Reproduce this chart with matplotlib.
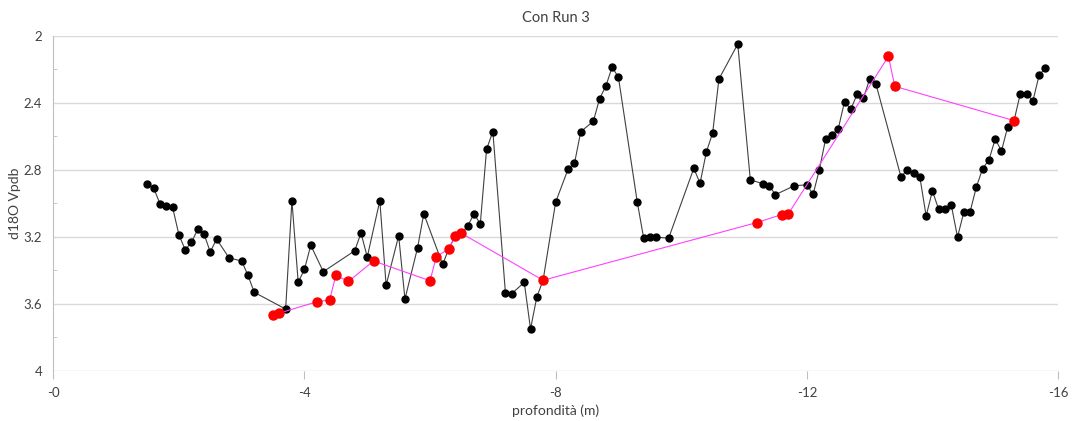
import matplotlib
matplotlib.use("Agg")
import matplotlib.pyplot as plt
from matplotlib.ticker import MultipleLocator

plt.rcParams['font.family'] = ['Lato', 'DejaVu Sans']

# full run, depth (m) and d18O
depth = [-1.5, -1.6, -1.7, -1.8, -1.9, -2.0, -2.1, -2.2, -2.3, -2.4, -2.5, -2.6,
         -2.8, -3.0, -3.1, -3.2, -3.7, -3.8, -3.9, -4.0, -4.1, -4.3, -4.8, -4.9,
         -5.0, -5.2, -5.3, -5.5, -5.6, -5.8, -5.9, -6.2, -6.3, -6.4, -6.5, -6.6,
         -6.7, -6.8, -6.9, -7.0, -7.2, -7.3, -7.5, -7.6, -7.7, -7.8, -8.0, -8.2,
         -8.3, -8.4, -8.6, -8.7, -8.8, -8.9, -9.0, -9.3, -9.4, -9.5, -9.6, -9.8,
         -10.2, -10.3, -10.4, -10.5, -10.6, -10.9, -11.1, -11.3, -11.4, -11.5,
         -11.8, -12.0, -12.1, -12.2, -12.3, -12.4, -12.5, -12.6, -12.7, -12.8,
         -12.9, -13.0, -13.1, -13.5, -13.6, -13.7, -13.8, -13.9, -14.0, -14.1,
         -14.2, -14.3, -14.4, -14.5, -14.6, -14.7, -14.8, -14.9, -15.0, -15.1,
         -15.2, -15.3, -15.4, -15.5, -15.6, -15.7, -15.8]
d18o = [2.887, 2.911, 3.005, 3.017, 3.025, 3.188, 3.278, 3.234, 3.156, 3.184,
        3.291, 3.214, 3.327, 3.345, 3.431, 3.532, 3.632, 2.985, 3.472, 3.395,
        3.251, 3.409, 3.284, 3.178, 3.321, 2.985, 3.490, 3.194, 3.572, 3.268,
        3.063, 3.365, 3.272, 3.194, 3.180, 3.136, 3.063, 3.124, 2.678, 2.572,
        3.534, 3.540, 3.473, 3.751, 3.560, 3.460, 2.994, 2.794, 2.762, 2.573,
        2.511, 2.376, 2.300, 2.187, 2.249, 2.994, 3.205, 3.204, 3.204, 3.208,
        2.792, 2.881, 2.694, 2.581, 2.259, 2.050, 2.860, 2.884, 2.896, 2.949,
        2.896, 2.890, 2.947, 2.799, 2.615, 2.591, 2.557, 2.394, 2.440, 2.350,
        2.374, 2.260, 2.288, 2.844, 2.799, 2.820, 2.844, 3.076, 2.927, 3.037,
        3.037, 3.011, 3.202, 3.054, 3.051, 2.903, 2.794, 2.742, 2.617, 2.688,
        2.543, 2.507, 2.346, 2.346, 2.390, 2.235, 2.193]

# selected samples
sel_depth = [-3.5, -3.6, -4.2, -4.4, -4.5, -4.7, -5.1, -6.0, -6.1, -6.3, -6.4,
             -6.5, -7.8, -11.2, -11.6, -11.7, -13.3, -13.4, -15.3]
sel_d18o = [3.666, 3.656, 3.588, 3.578, 3.431, 3.467, 3.345, 3.463, 3.319,
            3.272, 3.194, 3.180, 3.460, 3.116, 3.068, 3.067, 2.123, 2.302, 2.507]

xticks = [0, -4, -8, -12, -16]
xticklabels = ["-0", "-4", "-8", "-12", "-16"]
yticks = [2, 2.4, 2.8, 3.2, 3.6, 4]
yticklabels = ["2", "2.4", "2.8", "3.2", "3.6", "4"]

fig = plt.figure(figsize=(10.73, 4.21), dpi=100)
ax = fig.add_axes([53.3 / 1073, 1 - 370.7 / 421, (1058 - 53.3) / 1073, (370.7 - 35.7) / 421])

ax.plot(depth, d18o, color='#404040', linewidth=0.8, marker='o', markersize=5,
        markerfacecolor='black', markeredgecolor='black', zorder=3, clip_on=False)
ax.plot(sel_depth, sel_d18o, color='#ff40ff', linewidth=0.8, marker='o', markersize=6.5,
        markerfacecolor='#ff0000', markeredgecolor='#ff0000', zorder=4, clip_on=False)

ax.set_xlim(0, -16)
ax.set_ylim(4, 2)
ax.set_xticks(xticks)
ax.set_xticklabels(xticklabels)
ax.set_yticks(yticks)
ax.set_yticklabels(yticklabels)
ax.yaxis.set_minor_locator(MultipleLocator(0.2))

ax.grid(True, axis='y', color='#d9d9d9', linewidth=1)
ax.set_axisbelow(True)
for side in ['top', 'right', 'bottom']:
    ax.spines[side].set_visible(False)
ax.spines['left'].set_color('#bfbfbf')
ax.tick_params(axis='x', length=6, color='#bfbfbf', labelsize=9.5, labelcolor='#404040', pad=6)
ax.tick_params(axis='y', which='major', length=0, labelsize=9.5, labelcolor='#404040', pad=8)
ax.tick_params(axis='y', which='minor', length=3, direction='in', color='#bfbfbf')

ax.set_title("Con Run 3", fontsize=10.5, color='#404040', pad=10)
ax.set_xlabel("profondità (m)", fontsize=10, color='#404040', labelpad=4)
ax.set_ylabel("d18O Vpdb", fontsize=10, color='#404040', labelpad=2)

fig.savefig("out.png", dpi=100)
